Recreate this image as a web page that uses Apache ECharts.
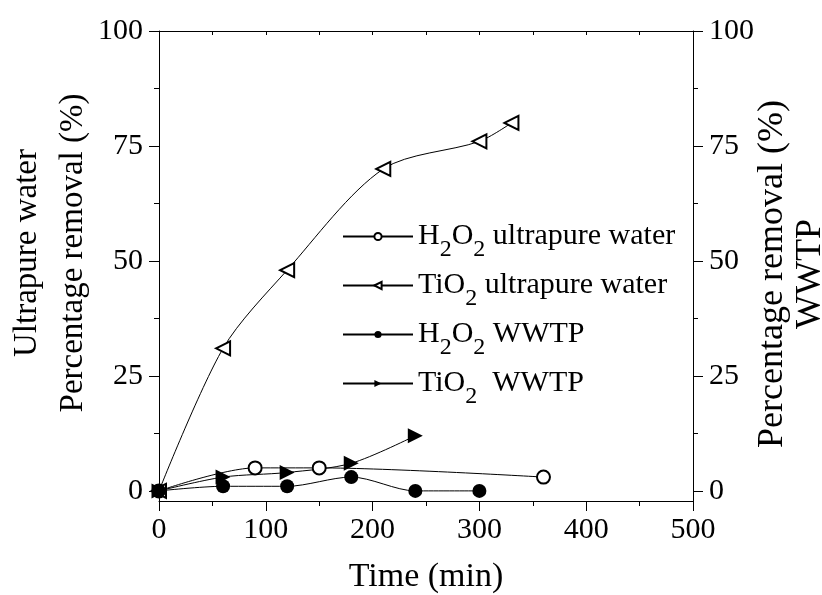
<!DOCTYPE html>
<html><head><meta charset="utf-8">
<script src="https://cdn.jsdelivr.net/npm/echarts@6/dist/echarts.min.js"></script>
<style>html,body{margin:0;padding:0;background:#fff}#c{width:822px;height:595px}</style>
</head><body><div id="c"></div>
<script>
// ---- data ----
const timeH2O2UP = [0, 90, 150, 360];
const valH2O2UP  = [0, 5, 5, 3];
const timeTiO2UP = [0, 60, 120, 210, 300, 330];
const valTiO2UP  = [0, 31, 48, 70, 76, 80];
const timeH2O2WW = [0, 60, 120, 180, 240, 300];
const valH2O2WW  = [0, 1, 1, 3, 0, 0];
const timeTiO2WW = [0, 60, 120, 180, 240];
const valTiO2WW  = [0, 3, 4, 6, 12];
const yTickValues  = [0, 25, 50, 75, 100];
const yMinorValues = [12.5, 37.5, 62.5, 87.5];
const seriesNames = ['H2O2 ultrapure water', 'TiO2 ultrapure water', 'H2O2 WWTP', 'TiO2 WWTP'];
const legendLabels = {
  'H2O2 ultrapure water': '{n|H}{s|2}{n|O}{s|2}{n| ultrapure water}',
  'TiO2 ultrapure water': '{n|TiO}{s|2}{n| ultrapure water}',
  'H2O2 WWTP': '{n|H}{s|2}{n|O}{s|2}{n| WWTP}',
  'TiO2 WWTP': '{n|TiO}{s|2}{n|  WWTP}'
};
// ---- chart ----
const FONT = '"Liberation Serif","Times New Roman",serif';
const pairs = (xs, ys) => xs.map((x, i) => [x, ys[i]]);
const chart = echarts.init(document.getElementById('c'), null, {renderer: 'canvas'});
const black = {color: '#000', width: 1};
function yAx(pos, major, extra) {
  return Object.assign({
    type: 'value', min: -2.2, max: 100, position: pos,
    splitLine: {show: false},
    axisLine: {show: major, onZero: false, lineStyle: black},
    axisTick: {show: true, customValues: major ? yTickValues : yMinorValues, length: major ? 10 : 5, lineStyle: black},
    axisLabel: {show: major, customValues: yTickValues, fontFamily: FONT, fontSize: 30, color: '#000', margin: 16}
  }, extra || {});
}
const option = {
  animation: false,
  backgroundColor: '#fff',
  grid: {left: 159, right: 129, top: 31, bottom: 94, containLabel: false, outerBoundsMode: 'none'},
  xAxis: [
    {type: 'value', min: 0, max: 500, interval: 100, position: 'bottom',
     axisLine: {onZero: false, lineStyle: black},
     axisTick: {length: 10, lineStyle: black},
     minorTick: {show: true, splitNumber: 2, length: 5, lineStyle: black},
     splitLine: {show: false}, minorSplitLine: {show: false},
     axisLabel: {fontFamily: FONT, fontSize: 30, color: '#000', margin: 14},
     name: 'Time (min)', nameLocation: 'middle', nameGap: 59, nameMoveOverlap: false,
     nameTextStyle: {fontFamily: FONT, fontSize: 34, color: '#000'}},
    {type: 'value', min: 0, max: 500, interval: 100, position: 'top',
     axisLine: {onZero: false, lineStyle: black},
     axisTick: {inside: true, length: 4, lineStyle: black},
     minorTick: {show: true, splitNumber: 2, length: 4, lineStyle: black},
     splitLine: {show: false}, axisLabel: {show: false}}
  ],
  yAxis: [
    yAx('left', true, {name: 'Ultrapure water\nPercentage removal (%)', nameLocation: 'middle', nameRotate: 90, nameGap: 63, nameMoveOverlap: false,
      nameTextStyle: {fontFamily: FONT, fontSize: 33, color: '#000', lineHeight: 46, padding: [0, 0, 0, 26]}}),
    yAx('left', false),
    yAx('right', true, {name: 'Percentage removal (%)\nWWTP', nameLocation: 'middle', nameRotate: 90, nameGap: 61, nameMoveOverlap: false,
      nameTextStyle: {fontFamily: FONT, fontSize: 36, color: '#000', lineHeight: 38, padding: [0, 16, 0, 0]}}),
    yAx('right', false)
  ],
  legend: {
    orient: 'vertical', left: 342, top: 221, padding: 0, itemWidth: 70, itemHeight: 9, itemGap: 8,
    data: seriesNames,
    formatter: name => legendLabels[name],
    textStyle: {fontFamily: FONT, fontSize: 30, color: '#000',
      rich: {
        n: {fontFamily: FONT, fontSize: 30, color: '#000', padding: [10, 0, 0, 0], verticalAlign: 'top'},
        s: {fontFamily: FONT, fontSize: 24, color: '#000', padding: [27, 0, 0, 0], verticalAlign: 'top'}
      }}
  },
  series: [
    {name: seriesNames[0], type: 'line', data: pairs(timeH2O2UP, valH2O2UP), smooth: 0.3,
     symbol: 'emptyCircle', symbolSize: 13, lineStyle: black,
     itemStyle: {color: '#000', borderColor: '#000', borderWidth: 1}},
    {name: seriesNames[1], type: 'line', data: pairs(timeTiO2UP, valTiO2UP), smooth: 0.3,
     symbol: 'emptyTriangle', symbolRotate: 90, symbolSize: 14, lineStyle: black,
     itemStyle: {color: '#000', borderColor: '#000', borderWidth: 1}},
    {name: seriesNames[2], type: 'line', data: pairs(timeH2O2WW, valH2O2WW), smooth: 0.3,
     symbol: 'circle', symbolSize: 14, lineStyle: black,
     itemStyle: {color: '#000'}},
    {name: seriesNames[3], type: 'line', data: pairs(timeTiO2WW, valTiO2WW), smooth: 0.3,
     symbol: 'triangle', symbolRotate: -90, symbolSize: 15, lineStyle: black,
     itemStyle: {color: '#000'}}
  ]
};
chart.setOption(option);
</script></body></html>
